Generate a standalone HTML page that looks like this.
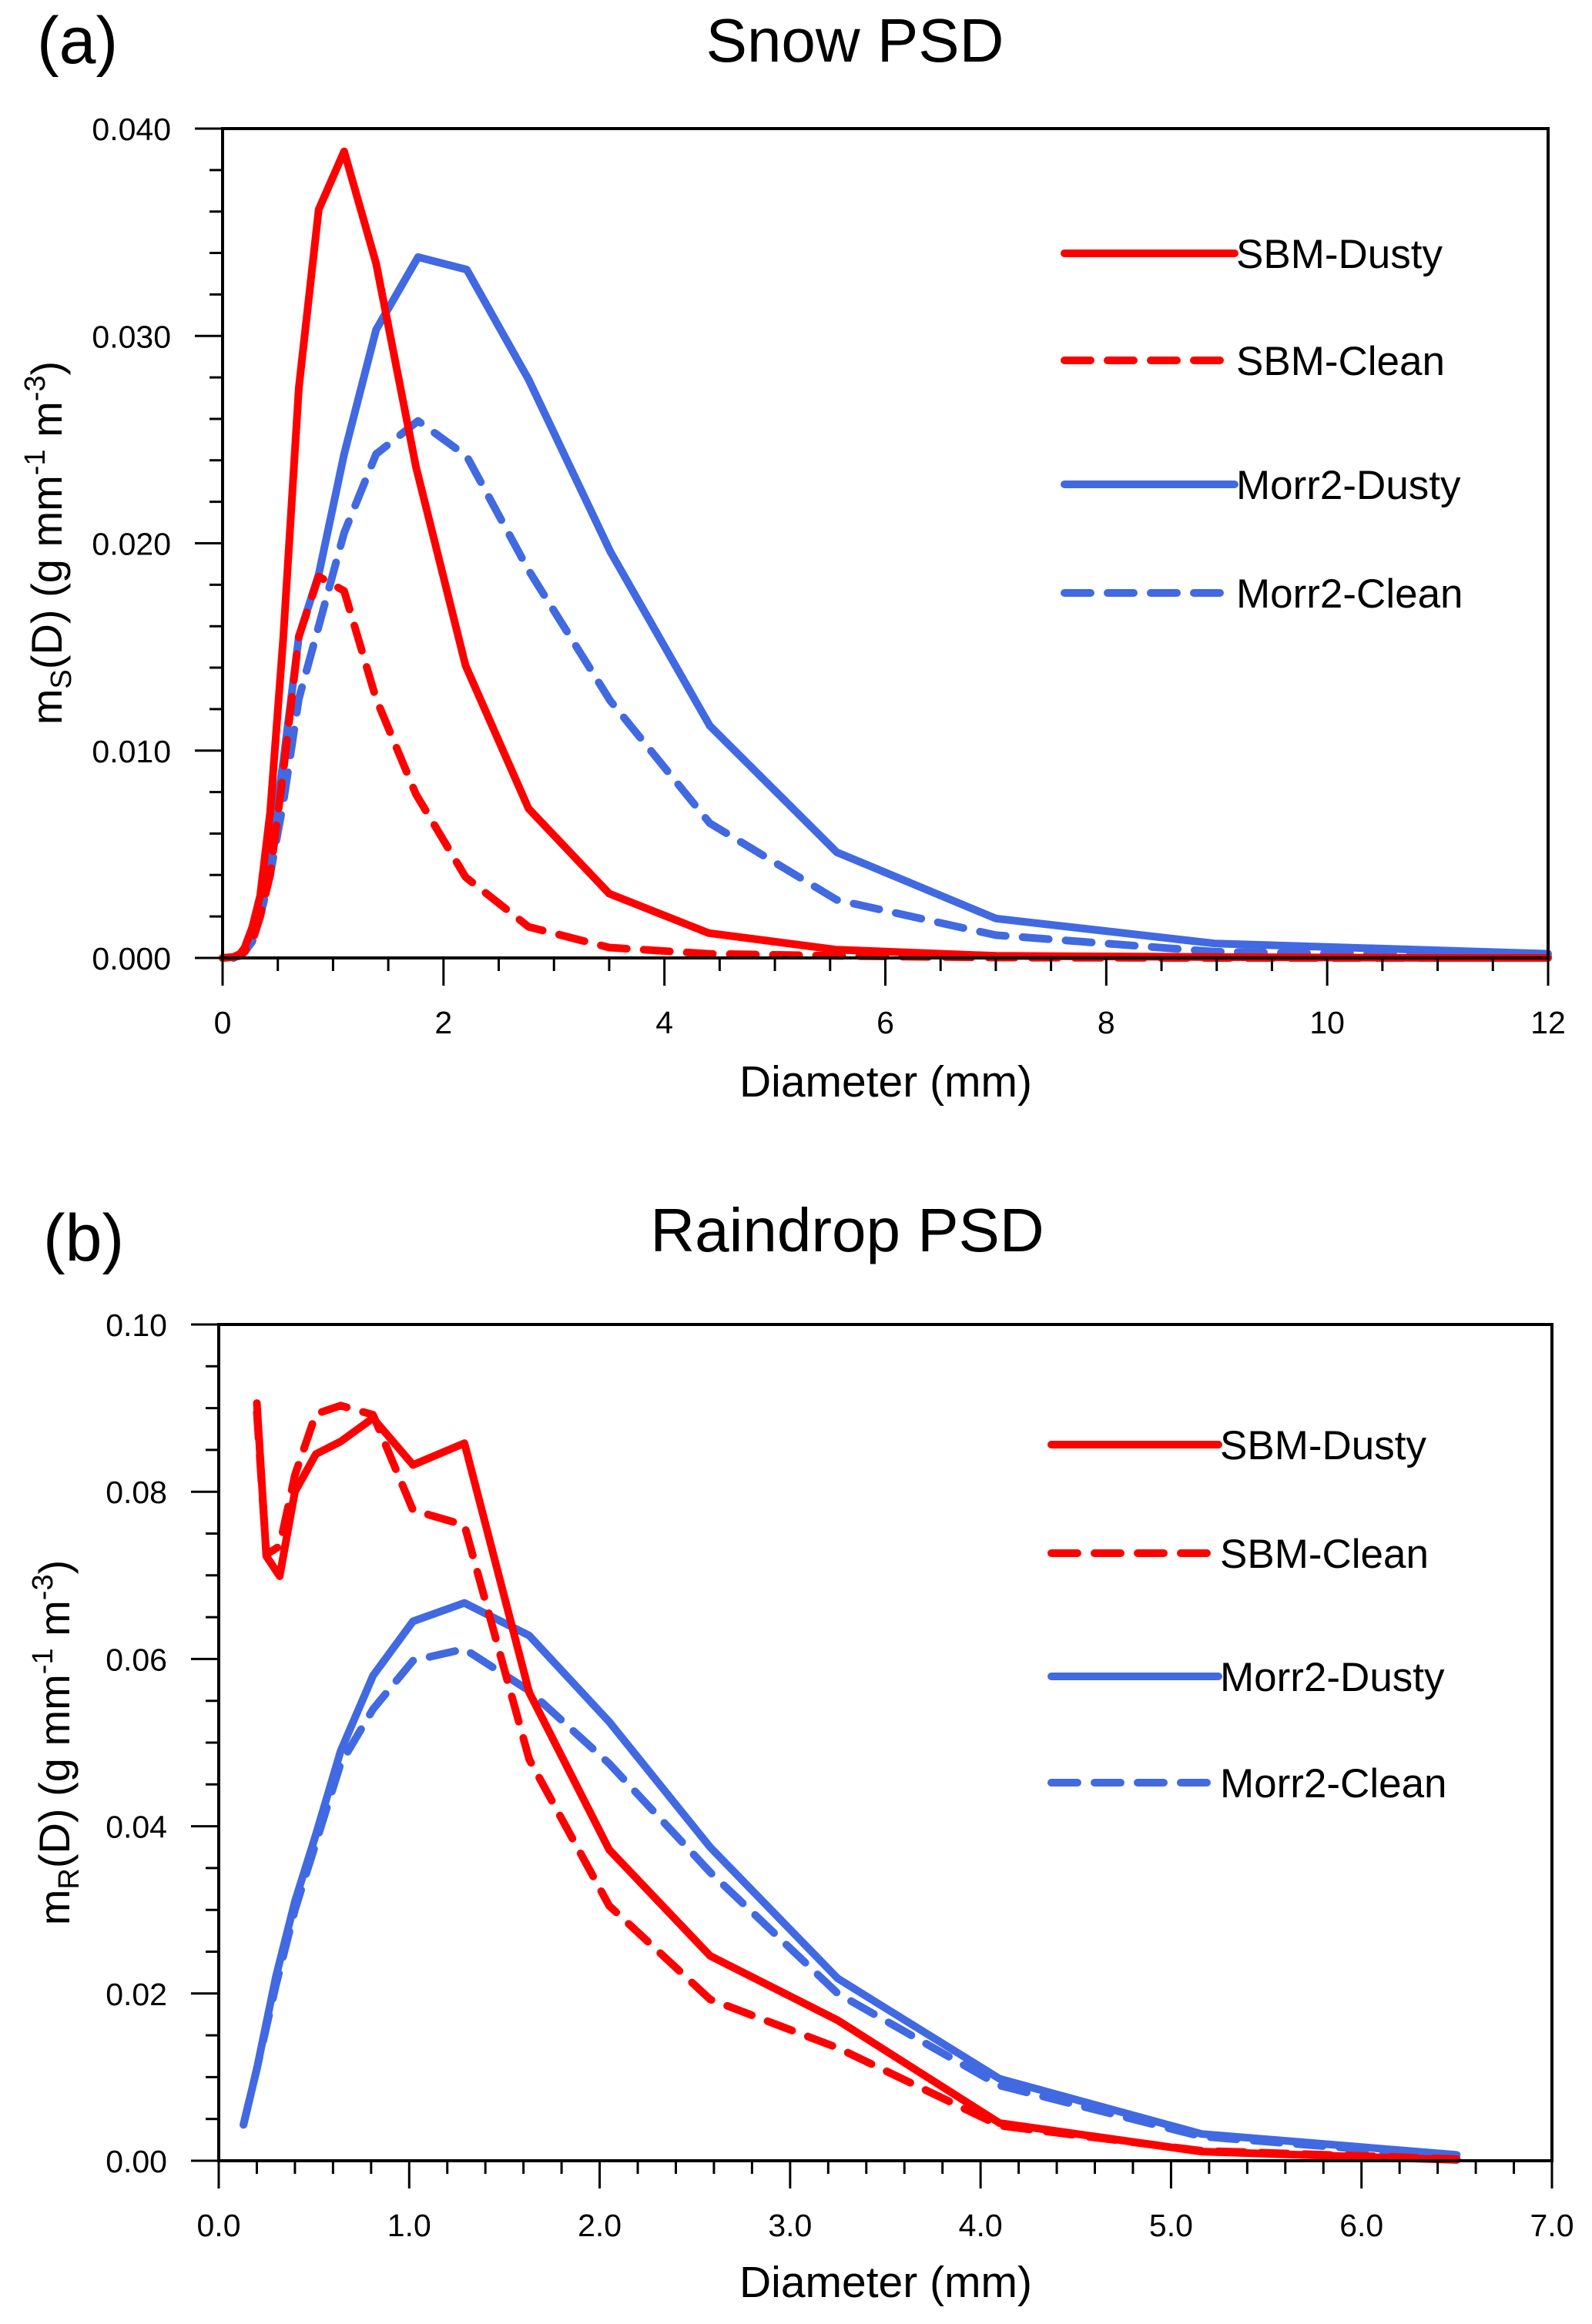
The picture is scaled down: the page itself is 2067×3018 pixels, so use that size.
<!DOCTYPE html>
<html><head><meta charset="utf-8"><style>
html,body{margin:0;padding:0;background:#fff;}
svg{display:block;font-family:"Liberation Sans",sans-serif;}
</style></head><body>
<svg id="svg" width="2067" height="3018" viewBox="0 0 2067 3018" xmlns="http://www.w3.org/2000/svg">
<rect width="2067" height="3018" fill="#fff"/>
<g id="pa"></g>
<g id="pb"></g>
</svg>
<script>
// ---- Panel (a) Snow PSD data ----
const snowSbmX = [0,0.1,0.16,0.2,0.27,0.34,0.43,0.55,0.69,0.87,1.1,1.39,1.75,2.2,2.77,3.5,4.4,5.55,7.0,8.8,11.1,12];
const snowSbmDusty = [0,0.00005,0.0002,0.0005,0.0015,0.003,0.007,0.0155,0.0275,0.0361,0.0389,0.0335,0.0237,0.0141,0.0072,0.0031,0.0012,0.0004,0.0001,0.00005,0,0];
const snowSbmClean = [0,0.00005,0.0001,0.0003,0.0008,0.002,0.004,0.009,0.0155,0.0184,0.0177,0.0125,0.0079,0.0039,0.0015,0.0005,0.0002,0.0001,0.00002,0,0,0];
const snowMorrX = [0.1,0.2,0.27,0.34,0.43,0.55,0.69,0.87,1.1,1.39,1.77,2.21,2.77,3.51,4.41,5.56,7.0,8.98,12];
const snowMorrDusty = [0,0.0003,0.001,0.0025,0.005,0.0095,0.0155,0.0185,0.0243,0.0303,0.0338,0.0332,0.0279,0.0196,0.0112,0.0051,0.0019,0.0007,0.0002];
const snowMorrClean = [0,0.0003,0.0008,0.002,0.004,0.0075,0.0125,0.016,0.0205,0.0243,0.0259,0.0242,0.0187,0.0124,0.0065,0.0028,0.0011,0.0003,0.00005];
const snowXTicks = ["0","2","4","6","8","10","12"];
const snowYTicks = ["0.000","0.010","0.020","0.030","0.040"];
// ---- Panel (b) Raindrop PSD data ----
const rainSbmX = [0.2,0.25,0.32,0.4,0.51,0.64,0.81,1.02,1.29,1.63,2.05,2.58,3.25,4.1,5.16,6.5];
const rainSbmDusty = [0.0906,0.0723,0.0699,0.080,0.0845,0.086,0.0888,0.0832,0.0858,0.056,0.0372,0.0245,0.0168,0.0045,0.0011,0.0001];
const rainSbmClean = [0.0895,0.0725,0.0735,0.082,0.0893,0.0903,0.0892,0.0778,0.076,0.048,0.0305,0.0193,0.0135,0.0042,0.0012,0.0002];
const rainMorrX = [0.13,0.2,0.3,0.4,0.51,0.64,0.81,1.02,1.29,1.63,2.05,2.58,3.25,4.1,5.16,6.5];
const rainMorrDusty = [0.0043,0.011,0.022,0.031,0.039,0.049,0.058,0.0645,0.0667,0.0628,0.0525,0.0375,0.0218,0.0098,0.0032,0.0007];
const rainMorrClean = [0.0043,0.011,0.021,0.030,0.038,0.0475,0.054,0.0598,0.0612,0.0562,0.0475,0.0345,0.020,0.009,0.0029,0.0005];
const rainXTicks = ["0.0","1.0","2.0","3.0","4.0","5.0","6.0","7.0"];
const rainYTicks = ["0.00","0.02","0.04","0.06","0.08","0.10"];

const NS="http://www.w3.org/2000/svg";
function mk(parent,tag,attrs){const e=document.createElementNS(NS,tag);for(const k in attrs)e.setAttribute(k,attrs[k]);parent.appendChild(e);return e;}
const RED="#ff0000", BLUE="#4169e1";

function drawPanel(g,cfg){
  const {L,R,T,B,xmax,ymax,xMajor,xMinor,yMajor,yMinor,xTicks,yTicks}=cfg;
  const sx=v=>L+(v/xmax)*(R-L);
  const sy=v=>B-(v/ymax)*(B-T);
  cfg.series.forEach(s=>{
    const pts=s.x.map((xv,i)=>sx(xv).toFixed(1)+","+sy(s.y[i]).toFixed(1)).join(" ");
    const p=mk(g,"polyline",{points:pts,fill:"none",stroke:s.color,"stroke-width":10,"stroke-linejoin":"round","stroke-linecap":"round"});
    if(s.dash)p.setAttribute("stroke-dasharray","34 22");
    
    
  });
  const fr=mk(g,"rect",{x:L,y:T,width:R-L,height:B-T,fill:"none",stroke:"#000","stroke-width":4});
  
  
  for(let v=0;v<=xmax+1e-9;v+=xMinor){
    const major=Math.abs(v/xMajor-Math.round(v/xMajor))<1e-6;
    const t=mk(g,"line",{x1:sx(v),x2:sx(v),y1:B,y2:B+(major?36:17),stroke:"#000","stroke-width":3});
    
    
  }
  xTicks.forEach((lab,i)=>{
    const t=mk(g,"text",{x:sx(i*xMajor),y:B+98,"font-size":41,"text-anchor":"middle"});
    t.textContent=lab;
    
    
  });
  for(let v=0;v<=ymax+1e-12;v+=yMinor){
    const major=Math.abs(v/yMajor-Math.round(v/yMajor))<1e-6;
    const t=mk(g,"line",{x1:L-(major?36:17),x2:L,y1:sy(v),y2:sy(v),stroke:"#000","stroke-width":3});
    
    
  }
  yTicks.forEach((lab,i)=>{
    const t=mk(g,"text",{x:cfg.ylabX,y:sy(i*yMajor)+15,"font-size":41,"text-anchor":"end"});
    t.textContent=lab;
    
    
  });
  cfg.legend.forEach((it,i)=>{
    const y=cfg.legY[i];
    const ln=mk(g,"line",{x1:cfg.legX1,x2:it.dash?cfg.legX1+208:cfg.legX2,y1:y,y2:y,stroke:it.color,"stroke-width":10,"stroke-linecap":"round"});
    if(it.dash)ln.setAttribute("stroke-dasharray","34 22");
    
    
    const t=mk(g,"text",{x:cfg.legX2+2,y:y+19,"font-size":53});
    t.textContent=it.label;
    
    
  });
}

drawPanel(document.getElementById("pa"),{
  L:289,R:2010,T:167,B:1244,xmax:12,ymax:0.04,xMajor:2,xMinor:0.5,yMajor:0.01,yMinor:0.002,
  xTicks:snowXTicks,yTicks:snowYTicks,ylabX:222,
  series:[
    {x:snowMorrX,y:snowMorrClean,color:BLUE,dash:true,name:"morr2-clean-line"},
    {x:snowMorrX,y:snowMorrDusty,color:BLUE,dash:false,name:"morr2-dusty-line"},
    {x:snowSbmX,y:snowSbmClean,color:RED,dash:true,name:"sbm-clean-line"},
    {x:snowSbmX,y:snowSbmDusty,color:RED,dash:false,name:"sbm-dusty-line"}],
  legend:[{label:"SBM-Dusty",color:RED},{label:"SBM-Clean",color:RED,dash:true},{label:"Morr2-Dusty",color:BLUE},{label:"Morr2-Clean",color:BLUE,dash:true}],
  legX1:1382,legX2:1603,legY:[329,468,629,770]
});
drawPanel(document.getElementById("pb"),{
  L:284,R:2015,T:1720,B:2806,xmax:7,ymax:0.1,xMajor:1,xMinor:0.2,yMajor:0.02,yMinor:0.005,
  xTicks:rainXTicks,yTicks:rainYTicks,ylabX:217,
  series:[
    {x:rainMorrX,y:rainMorrClean,color:BLUE,dash:true,name:"morr2-clean-line"},
    {x:rainMorrX,y:rainMorrDusty,color:BLUE,dash:false,name:"morr2-dusty-line"},
    {x:rainSbmX,y:rainSbmClean,color:RED,dash:true,name:"sbm-clean-line"},
    {x:rainSbmX,y:rainSbmDusty,color:RED,dash:false,name:"sbm-dusty-line"}],
  legend:[{label:"SBM-Dusty",color:RED},{label:"SBM-Clean",color:RED,dash:true},{label:"Morr2-Dusty",color:BLUE},{label:"Morr2-Clean",color:BLUE,dash:true}],
  legX1:1365,legX2:1582,legY:[1876,2017,2177,2315]
});
</script>
<script>
const s=document.getElementById("svg");
function txt(attrs,html,name){const e=document.createElementNS(NS,"text");for(const k in attrs)e.setAttribute(k,attrs[k]);e.innerHTML=html;s.appendChild(e);}
txt({x:48,y:82,"font-size":86},"(a)","panel-a-label");
txt({x:1110,y:80,"font-size":80,"text-anchor":"middle"},"Snow PSD","snow-chart-title");
txt({x:1150,y:1424,"font-size":57,"text-anchor":"middle"},"Diameter (mm)","snow-x-axis-title");
txt({x:0,y:0,"font-size":56,"text-anchor":"middle",transform:"translate(80,705) rotate(-90)"},'m<tspan font-size="38" dy="12">S</tspan><tspan dy="-12">(D) (g mm</tspan><tspan font-size="38" dy="-22">-1</tspan><tspan dy="22"> m</tspan><tspan font-size="38" dy="-22">-3</tspan><tspan dy="22">)</tspan>',"snow-y-axis-title");
txt({x:56,y:1637,"font-size":86},"(b)","panel-b-label");
txt({x:1100,y:1625,"font-size":80,"text-anchor":"middle"},"Raindrop PSD","rain-chart-title");
txt({x:1150,y:2983,"font-size":57,"text-anchor":"middle"},"Diameter (mm)","rain-x-axis-title");
txt({x:0,y:0,"font-size":56,"text-anchor":"middle",transform:"translate(90,2263) rotate(-90)"},'m<tspan font-size="38" dy="12">R</tspan><tspan dy="-12">(D) (g mm</tspan><tspan font-size="38" dy="-22">-1</tspan><tspan dy="22"> m</tspan><tspan font-size="38" dy="-22">-3</tspan><tspan dy="22">)</tspan>',"rain-y-axis-title");
</script>
</body></html>
